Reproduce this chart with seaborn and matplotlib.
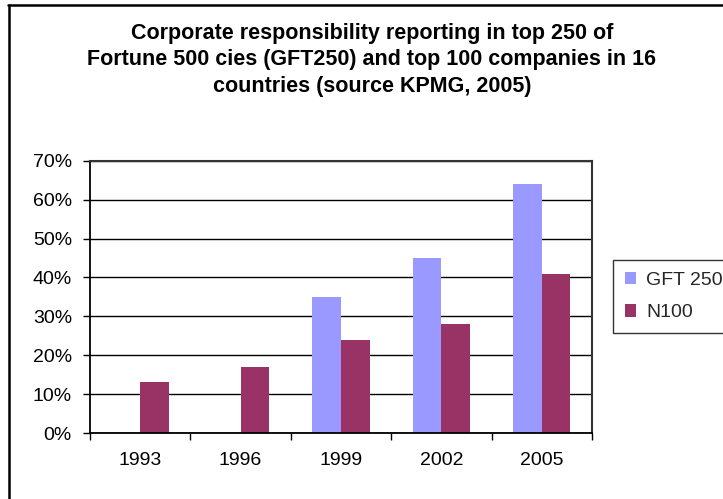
import numpy as np
import pandas as pd
import matplotlib
matplotlib.use("Agg")
import matplotlib.pyplot as plt
from matplotlib.lines import Line2D
from matplotlib.ticker import FuncFormatter, FixedLocator
import seaborn as sns

years = ["1993", "1996", "1999", "2002", "2005"]
gft250 = [np.nan, np.nan, 35, 45, 64]
n100 = [13, 17, 24, 28, 41]
series_names = ["GFT 250", "N100"]
colors = ["#9999FF", "#993366"]
title = ("Corporate responsibility reporting in top 250 of\n"
         "Fortune 500 cies (GFT250) and top 100 companies in 16\n"
         "countries (source KPMG, 2005)")

df = pd.DataFrame({
    "year": years * 2,
    "series": [series_names[0]] * len(years) + [series_names[1]] * len(years),
    "value": list(gft250) + list(n100),
})

sns.set_style("white")
plt.rcParams["font.family"] = ["Liberation Sans", "DejaVu Sans"]

fig = plt.figure(figsize=(7.23, 4.99), dpi=100)
ax = fig.add_axes([90 / 723, 1 - 433 / 499, (592 - 90) / 723, (433 - 160.7) / 499])

sns.barplot(data=df, x="year", y="value", hue="series", hue_order=series_names,
            order=years, palette=colors, width=0.5714, errorbar=None,
            saturation=1, linewidth=0, ax=ax)

ax.set_xlim(-0.5, len(years) - 0.5)
ax.set_ylim(0, 70)
ax.set_yticks(np.arange(0, 71, 10))
ax.yaxis.set_major_formatter(FuncFormatter(lambda v, p: f"{v:.0f}%"))
ax.set_xlabel("")
ax.set_ylabel("")

ax.grid(axis="y", color="#000000", linewidth=1.0)
ax.set_axisbelow(True)

ax.xaxis.set_minor_locator(FixedLocator(np.arange(-0.5, len(years), 1.0)))
ax.tick_params(axis="x", which="major", length=0, pad=14, labelsize=14, colors="#000000")
ax.tick_params(axis="x", which="minor", length=5, width=1, direction="out",
               color="#000000", bottom=True)
ax.tick_params(axis="y", which="major", length=5, width=1, direction="out",
               color="#000000", left=True, pad=8, labelsize=14, labelcolor="#000000")

for side in ["left", "bottom"]:
    ax.spines[side].set_color("#000000")
    ax.spines[side].set_linewidth(1.3)
for side in ["top", "right"]:
    ax.spines[side].set_visible(True)
    ax.spines[side].set_color("#333333")
    ax.spines[side].set_linewidth(1.5)

leg = ax.legend(loc="upper left", bbox_to_anchor=(613 / 723, 1 - 260 / 499),
                bbox_transform=fig.transFigure, borderaxespad=0, frameon=True,
                fancybox=False, fontsize=14, handlelength=0.6, handleheight=0.6,
                handletextpad=0.5, labelspacing=0.8, borderpad=0.6)
leg.get_frame().set_edgecolor("#000000")
leg.get_frame().set_linewidth(1.0)

fig.text(372 / 723, 1 - 60 / 499, title, ha="center", va="center", fontsize=15.5,
         fontweight="bold", linespacing=1.37, color="#000000")

fig.add_artist(Line2D([8.5 / 723, 8.5 / 723], [0, 1 - 4.7 / 499],
                      transform=fig.transFigure, color="#000000", linewidth=1.8))
fig.add_artist(Line2D([7.6 / 723, 1], [1 - 4.7 / 499, 1 - 4.7 / 499],
                      transform=fig.transFigure, color="#000000", linewidth=1.8))

fig.savefig("out.png", dpi=100, facecolor="white")
